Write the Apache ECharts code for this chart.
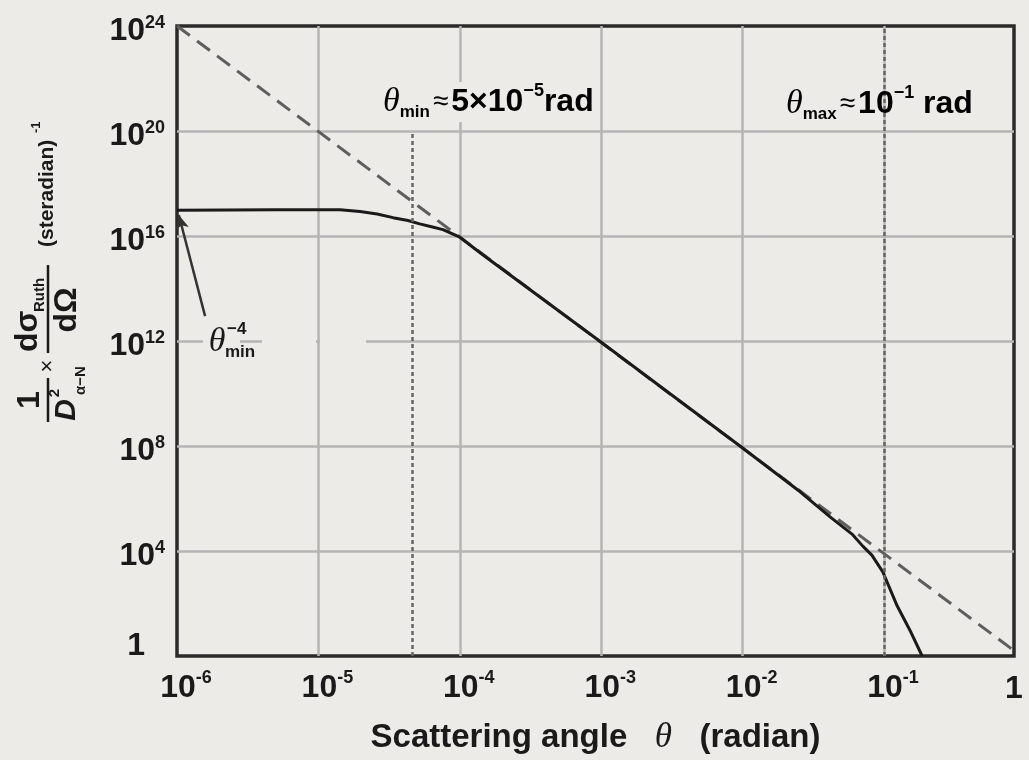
<!DOCTYPE html>
<html>
<head>
<meta charset="utf-8">
<script src="https://cdn.jsdelivr.net/npm/echarts@6/dist/echarts.min.js"></script>
<style>
html,body{margin:0;padding:0;background:#edebe7;}
#c{width:1029px;height:760px;}
</style>
</head>
<body>
<div id="c"></div>
<script>
// ---- data ----
const CURVE_THETA = [1e-6, 5e-6, 1e-5, 1.42e-5, 1.97e-5, 2.6e-5, 3.37e-5, 4.3e-5, 5.2e-5, 6.3e-5, 7.6e-5, 1e-4, 1.46e-4, 1e-3, 1e-2, 0.0255, 0.0415, 0.06, 0.071, 0.082, 0.098, 0.124, 0.155, 0.186];
const CURVE_VALUE = [9.5e16, 1e17, 1e17, 1e17, 8.5e16, 6.9e16, 5e16, 3.9e16, 2.9e16, 2.25e16, 1.75e16, 9e15, 1.9e15, 9e11, 8.4e7, 1.8e6, 2e5, 4.2e4, 1.5e4, 7e3, 1.6e3, 80, 8, 1];
const ASYMPTOTE_THETA = [1e-6, 0.83];
const ASYMPTOTE_VALUE = [1e24, 1.6];
const THETA_MIN_LINE = 4.6e-5, THETA_MIN_LINE_TOP = 1e20;
const THETA_MAX_LINE = 0.1, THETA_MAX_LINE_TOP = 1e24;
const X_AXIS_START = 1e-6, X_AXIS_END = 0.83;   // right edge is labelled "1"
const X_END_LABEL = '1';
const Y_AXIS_START = 1, Y_AXIS_END = 1e24;
const ARROW_FROM = [1.58e-6, 8.9e12];
const ARROW_TO = [1.03e-6, 6.3e16];

// ---- build ----
const lg = Math.log10;
const F = 'Liberation Sans, Arial, Helvetica, sans-serif';
const SERIF = 'Liberation Serif, Times New Roman, serif';
const INK = '#1a1a1a';
const BG = '#edebe7';

const curve = CURVE_THETA.map((t, i) => [lg(t), lg(CURVE_VALUE[i])]);
const asym = ASYMPTOTE_THETA.map((t, i) => [lg(t), lg(ASYMPTOTE_VALUE[i])]);
const xMin = lg(X_AXIS_START), xMax = lg(X_AXIS_END);

const chart = echarts.init(document.getElementById('c'), null, {renderer: 'canvas'});

function txt(u, v, text, st) {
  return {type: 'text', x: u, y: v, z: 10,
    style: Object.assign({text: text, fill: INK, fontFamily: F, fontWeight: 'bold', fontSize: 30,
      textAlign: 'center', textVerticalAlign: 'middle', align: 'center', verticalAlign: 'middle'}, st)};
}

const yTitle = {
  type: 'group', x: 48, y: 422, rotation: Math.PI / 2, z: 10,
  children: [
    {type: 'line', shape: {x1: 0, y1: 0, x2: 44, y2: 0}, style: {stroke: INK, lineWidth: 2.5}},
    txt(22, -18, '1', {fontSize: 32}),
    txt(12, 19, 'D', {fontStyle: 'italic', fontSize: 30}),
    txt(29, 7, '2', {fontSize: 15}),
    txt(27, 33, 'α−N', {fontSize: 15, textAlign: 'left', align: 'left'}),
    txt(56, 0, '×', {fontSize: 22, fontWeight: 'normal'}),
    {type: 'line', shape: {x1: 69, y1: 0, x2: 157, y2: 0}, style: {stroke: INK, lineWidth: 2.5}},
    txt(70, -20, 'dσ', {fontSize: 32, textAlign: 'left', align: 'left'}),
    txt(110, -8, 'Ruth', {fontSize: 15, textAlign: 'left', align: 'left'}),
    txt(112, 19, 'dΩ', {fontSize: 32}),
    txt(175, -1, '(steradian)', {fontSize: 21, textAlign: 'left', align: 'left'}),
    txt(289, -12, '-1', {fontSize: 13, textAlign: 'left', align: 'left'})
  ]
};

const annRich = {
  th: {fontFamily: SERIF, fontStyle: 'italic', fontSize: 34, fontWeight: 'normal', color: INK},
  sub: {fontFamily: F, fontSize: 17, fontWeight: 'bold', color: INK, padding: [20, 0, 0, 0]},
  ap: {fontFamily: F, fontSize: 28, fontWeight: 'normal', color: INK, padding: [0, 3, 0, 3]},
  bd: {fontFamily: F, fontSize: 32, fontWeight: 'bold', color: INK},
  sup: {fontFamily: F, fontSize: 18, fontWeight: 'bold', color: INK, padding: [0, 0, 22, 0]}
};

const graphics = [
  // gaps in the 10^12 grid line around the θ_min^-4 label
  {type: 'rect', z: 5, shape: {x: 203, y: 339, width: 37, height: 8}, style: {fill: BG}},
  {type: 'rect', z: 5, shape: {x: 262, y: 339, width: 54, height: 8}, style: {fill: BG}},
  {type: 'rect', z: 5, shape: {x: 320, y: 339, width: 46, height: 8}, style: {fill: BG}},
  txt(217, 342, 'θ', {fontFamily: SERIF, fontStyle: 'italic', fontWeight: 'normal', fontSize: 34}),
  txt(227, 329, '−4', {fontSize: 17, textAlign: 'left', align: 'left'}),
  txt(225, 352, 'min', {fontSize: 17, textAlign: 'left', align: 'left'}),
  {type: 'text', x: 381, y: 102, z: 10, style: {
    text: '{th|θ}{sub|min}{ap|≈}{bd|5×10}{sup|−5}{bd|rad}', rich: annRich,
    textAlign: 'left', align: 'left', textVerticalAlign: 'middle', verticalAlign: 'middle',
    backgroundColor: BG, padding: [0, 2, 0, 2]}},
  {type: 'text', x: 786, y: 104, z: 10, style: {
    text: '{th|θ}{sub|max}{ap|≈}{bd|10}{sup|−1}{bd| rad}', rich: annRich,
    textAlign: 'left', align: 'left', textVerticalAlign: 'middle', verticalAlign: 'middle'}},
  yTitle
];

const tickRich = {
  a: {fontFamily: F, fontSize: 32, fontWeight: 'bold', color: INK},
  b: {fontFamily: F, fontSize: 18, fontWeight: 'bold', color: INK},
  one: {fontFamily: F, fontSize: 32, fontWeight: 'bold', color: INK}
};

const option = {
  backgroundColor: BG,
  animation: false,
  graphic: graphics,
  grid: {left: 177, right: 15, top: 26, bottom: 103, show: true, borderWidth: 3.5, borderColor: '#2a2a2a', backgroundColor: 'transparent'},
  xAxis: {
    type: 'value', min: xMin, max: xMax, interval: 1,
    axisLine: {show: false}, axisTick: {show: false},
    splitLine: {show: true, showMinLine: false, showMaxLine: false, lineStyle: {color: '#b4b4b4', width: 2.5}},
    axisLabel: {
      margin: 13,
      formatter: function (v) {
        if (v > -0.5) return '{one|' + X_END_LABEL + '}';
        return '{a|10}{b|' + Math.round(v) + '}';
      },
      rich: {
        a: Object.assign({}, tickRich.a, {padding: [0, 0, 0, 18]}),
        b: Object.assign({}, tickRich.b, {padding: [0, 0, 20, 0]}),
        one: Object.assign({}, tickRich.one, {padding: [4, 0, 0, 0]})
      }
    },
    name: 'Scattering angle   {th|θ}   (radian)',
    nameLocation: 'middle', nameGap: 64,
    nameTextStyle: {fontFamily: F, fontSize: 33, fontWeight: 'bold', color: INK,
      rich: {th: {fontFamily: SERIF, fontStyle: 'italic', fontWeight: 'normal', fontSize: 35, color: INK}}}
  },
  yAxis: {
    type: 'value', min: lg(Y_AXIS_START), max: lg(Y_AXIS_END), interval: 4,
    axisLine: {show: false}, axisTick: {show: false},
    splitLine: {show: true, showMinLine: false, showMaxLine: false, lineStyle: {color: '#b4b4b4', width: 2.5}},
    axisLabel: {
      margin: 12,
      formatter: function (v) {
        if (v === 0) return '{one|1}';
        return '{a|10}{b|' + v + '}';
      },
      rich: {
        a: Object.assign({}, tickRich.a, {padding: [10, 0, 0, 0]}),
        b: Object.assign({}, tickRich.b, {padding: [0, 0, 6, 0]}),
        one: Object.assign({}, tickRich.one, {padding: [0, 20, 20, 0]})
      }
    }
  },
  series: [
    {
      type: 'line', name: 'asymptote', data: asym, showSymbol: false, symbol: 'none', z: 3,
      lineStyle: {color: '#5e5e5e', width: 3, type: [16, 9]},
      markLine: {
        silent: true, symbol: ['none', 'none'], label: {show: false},
        lineStyle: {color: '#666', width: 2.5, type: [4, 3]},
        data: [
          [{coord: [lg(THETA_MIN_LINE), lg(Y_AXIS_START)]}, {coord: [lg(THETA_MIN_LINE), lg(THETA_MIN_LINE_TOP)]}],
          [{coord: [lg(THETA_MAX_LINE), lg(Y_AXIS_START)]}, {coord: [lg(THETA_MAX_LINE), lg(THETA_MAX_LINE_TOP)]}]
        ]
      }
    },
    {
      type: 'line', name: 'curve', data: curve, showSymbol: false, symbol: 'none', z: 4,
      smooth: false,
      lineStyle: {color: INK, width: 3, join: 'round'},
      markLine: {
        silent: true, symbol: ['none', 'arrow'], symbolSize: [10, 14], label: {show: false},
        lineStyle: {color: '#333', width: 2.5, type: 'solid'},
        data: [[{coord: [lg(ARROW_FROM[0]), lg(ARROW_FROM[1])]}, {coord: [lg(ARROW_TO[0]), lg(ARROW_TO[1])]}]]
      }
    }
  ]
};
chart.setOption(option);
</script>
</body>
</html>
